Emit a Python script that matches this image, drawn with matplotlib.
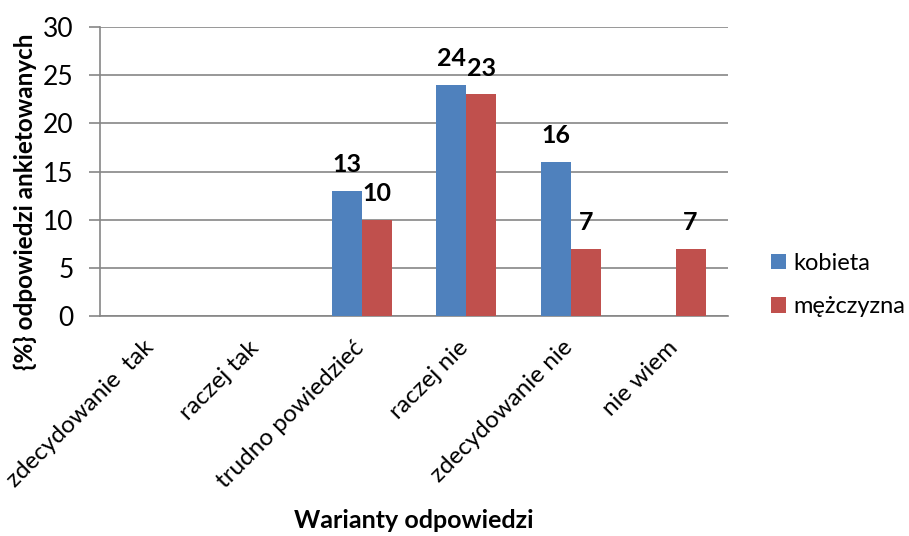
import matplotlib.pyplot as plt
import matplotlib.transforms as mtransforms
import numpy as np

plt.rcParams['font.family'] = ['Lato', 'DejaVu Sans']

# data
categories = ['zdecydowanie  tak', 'raczej tak', 'trudno powiedzieć',
              'raczej nie', 'zdecydowanie nie', 'nie wiem']
kobieta = [0, 0, 13, 24, 16, 0]
mezczyzna = [0, 0, 10, 23, 7, 7]
series_names = ['kobieta', 'mężczyzna']
colors = ['#4F81BD', '#C0504D']

W, H = 909, 536
fig = plt.figure(figsize=(W / 100, H / 100), dpi=100)
ax = fig.add_axes([100 / W, 1 - 316 / H, 628 / W, 289 / H])

x = np.arange(len(categories))
w = 0.2857
bars1 = ax.bar(x - w / 2, kobieta, w, color=colors[0], label=series_names[0], zorder=3)
bars2 = ax.bar(x + w / 2, mezczyzna, w, color=colors[1], label=series_names[1], zorder=3)

# value labels (zeros are not labelled)
for bars, vals in [(bars1, kobieta), (bars2, mezczyzna)]:
    for b, v in zip(bars, vals):
        if v == 0:
            continue
        ax.annotate(str(v), (b.get_x() + b.get_width() / 2, v),
                    xytext=(0, 13.5), textcoords='offset points',
                    ha='center', va='baseline', fontsize=18, fontweight='bold')

ax.set_xlim(-0.5, len(categories) - 0.5)
ax.set_ylim(0, 30)
ax.set_yticks(range(0, 31, 5))
ax.yaxis.grid(True, color='#868686', linewidth=1.2, zorder=0)
ax.set_axisbelow(True)

for s in ['top', 'right']:
    ax.spines[s].set_visible(False)
for s in ['left', 'bottom']:
    ax.spines[s].set_color('#868686')
    ax.spines[s].set_linewidth(1.2)

ax.tick_params(axis='y', colors='#868686', length=8, width=1.2, labelsize=19,
               labelcolor='black', pad=11)
ax.tick_params(axis='x', length=0, labelsize=17.5, pad=15)
ax.set_xticks(x)
ax.set_xticklabels(categories, rotation=45, ha='right', va='top', rotation_mode='anchor')
shift = mtransforms.ScaledTranslation(-9 / 100, 0, fig.dpi_scale_trans)
for lbl in ax.get_xticklabels():
    lbl.set_transform(lbl.get_transform() + shift)

# axis titles placed in figure pixels
fig.text(414 / W, 1 - 520 / H, 'Warianty odpowiedzi', fontsize=18, fontweight='bold',
         ha='center', va='center')
fig.text(25 / W, 1 - 202 / H, '{%} odpowiedzi ankietowanych', fontsize=17.5,
         fontweight='bold', rotation=90, ha='center', va='center')

ax.legend(loc='center left', bbox_to_anchor=(1.068, 0.107), frameon=False,
          fontsize=17, handlelength=0.65, handleheight=0.65, borderpad=0,
          borderaxespad=0, handletextpad=0.3, labelspacing=0.95)

fig.savefig('out.png', dpi=100)
